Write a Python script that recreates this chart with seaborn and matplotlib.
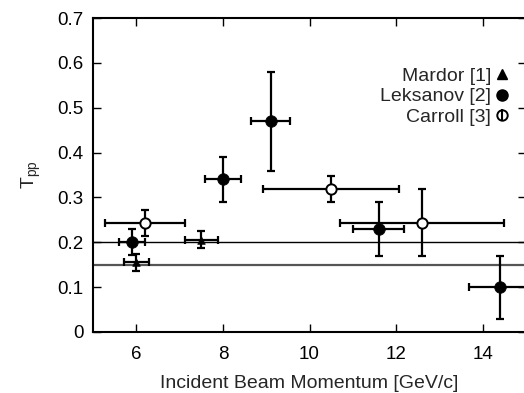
import matplotlib
matplotlib.use("Agg")
import matplotlib.pyplot as plt
import seaborn as sns
import pandas as pd
from matplotlib.lines import Line2D

# Data
mardor_p = [6.0, 7.5]
mardor_t = [0.156, 0.206]
mardor_dp = [0.29, 0.38]
mardor_dt = [0.019, 0.019]

leksanov_p = [5.9, 8.0, 9.1, 11.6, 14.4]
leksanov_t = [0.201, 0.340, 0.470, 0.230, 0.100]
leksanov_dp = [0.29, 0.41, 0.45, 0.59, 0.72]
leksanov_dt = [0.029, 0.050, 0.110, 0.060, 0.070]

carroll_p = [6.2, 10.5, 12.6]
carroll_t = [0.243, 0.318, 0.244]
carroll_dp = [0.92, 1.57, 1.90]
carroll_dt = [0.030, 0.029, 0.075]

ref_lines = [0.2, 0.15]
ref_colors = ["black", "#555555"]
labels = ["Mardor [1]", "Leksanov [2]", "Carroll [3]"]
xticks = [6, 8, 10, 12, 14]
yticks = [0, 0.1, 0.2, 0.3, 0.4, 0.5, 0.6, 0.7]

sns.set_theme(style="ticks")
plt.rcParams["font.family"] = ["Liberation Sans", "DejaVu Sans"]
plt.rcParams["mathtext.fontset"] = "custom"
plt.rcParams["mathtext.rm"] = "Liberation Sans"
plt.rcParams["mathtext.it"] = "Liberation Sans"

fig = plt.figure(figsize=(5.24, 3.93), dpi=100)
ax = fig.add_axes([93 / 524, 61 / 393, 433 / 524, 314 / 393])

ax.axhline(ref_lines[0], color=ref_colors[0], lw=1.0, zorder=1)
ax.axhline(ref_lines[1], color=ref_colors[1], lw=1.6, zorder=1)

ekw = dict(fmt="none", ecolor="black", elinewidth=1.6, capsize=2.6, capthick=1.6, zorder=2)
ax.errorbar(mardor_p, mardor_t, xerr=mardor_dp, yerr=mardor_dt, **ekw)
ax.errorbar(leksanov_p, leksanov_t, xerr=leksanov_dp, yerr=leksanov_dt, **ekw)
ax.errorbar(carroll_p, carroll_t, xerr=carroll_dp, yerr=carroll_dt, **ekw)

df_m = pd.DataFrame({"p": mardor_p, "t": mardor_t})
df_l = pd.DataFrame({"p": leksanov_p, "t": leksanov_t})
df_c = pd.DataFrame({"p": carroll_p, "t": carroll_t})
sns.scatterplot(data=df_m, x="p", y="t", ax=ax, marker="^", s=30, color="black",
                edgecolor="black", linewidth=0.5, zorder=3)
sns.scatterplot(data=df_l, x="p", y="t", ax=ax, marker="o", s=70, color="black",
                edgecolor="black", linewidth=0.5, zorder=3)
sns.scatterplot(data=df_c, x="p", y="t", ax=ax, marker="o", s=55, facecolor="white",
                edgecolor="black", linewidth=1.4, zorder=3)

ax.set_xlim(5, 15)
ax.set_ylim(0, 0.7)
ax.set_xticks(xticks)
ax.set_yticks(yticks)
ax.set_yticklabels(["0" if v == 0 else f"{v:.1f}" for v in yticks])
ax.tick_params(direction="in", top=True, right=True, length=6, width=1.0,
               labelsize=13.5, colors="black", pad=7)
ax.tick_params(axis="x", pad=10)
for s in ax.spines.values():
    s.set_linewidth(1.5)
    s.set_color("black")

ax.set_xlabel("Incident Beam Momentum [GeV/c]", fontsize=14, labelpad=9)
ax.set_ylabel(r"T$_{\mathrm{pp}}$", fontsize=14, labelpad=10)

h1 = Line2D([], [], ls="none", marker="^", color="black", markersize=7)
h2 = Line2D([], [], ls="none", marker="o", color="black", markersize=8)
h3a = Line2D([], [], ls="none", marker="o", markerfacecolor="white",
             markeredgecolor="black", markeredgewidth=1.4, markersize=7.5)
h3b = Line2D([], [], ls="none", marker="|", color="black", markersize=8.5, markeredgewidth=1.5)
leg = ax.legend([h1, h2, (h3a, h3b)], labels, markerfirst=False, frameon=False,
                loc="upper right", bbox_to_anchor=((507.5 - 93) / 433, 0.843),
                fontsize=14, handlelength=0.6, handletextpad=0.25, labelspacing=0.15,
                borderpad=0, borderaxespad=0)
for t in leg.get_texts():
    t.set_ha("right")

fig.savefig("out.png", dpi=100)
